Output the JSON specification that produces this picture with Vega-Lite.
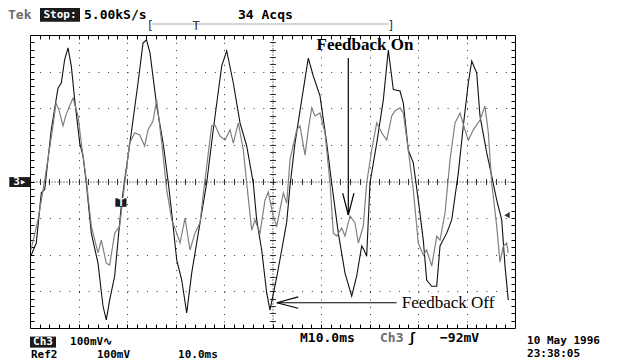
{
  "$schema": "https://vega.github.io/schema/vega-lite/v6.json",
  "width": 485,
  "height": 293,
  "autosize": {"type": "none"},
  "padding": {"left": 30, "top": 35, "right": 106, "bottom": 33},
  "background": "#ffffff",
  "config": {"view": {"stroke": "#000000", "strokeWidth": 1}},
  "datasets": {
    "ch3": [
      {"t": 0.27, "v": -200}, {"t": 1.3, "v": -168}, {"t": 2.33, "v": -31}, {"t": 3.03, "v": -22},
      {"t": 4.39, "v": 142}, {"t": 5.77, "v": 255}, {"t": 6.45, "v": 269}, {"t": 7.15, "v": 333},
      {"t": 7.84, "v": 365}, {"t": 8.52, "v": 315}, {"t": 9.22, "v": 223}, {"t": 10.25, "v": 105},
      {"t": 10.93, "v": 70}, {"t": 11.61, "v": -4}, {"t": 12.64, "v": -141}, {"t": 14.02, "v": -223},
      {"t": 15.05, "v": -340}, {"t": 15.73, "v": -378}, {"t": 16.43, "v": -323}, {"t": 17.46, "v": -258},
      {"t": 18.82, "v": -67}, {"t": 19.53, "v": 5}, {"t": 20.89, "v": 133}, {"t": 22.27, "v": 269},
      {"t": 23.3, "v": 378}, {"t": 24.02, "v": 387}, {"t": 24.74, "v": 351}, {"t": 26.12, "v": 207},
      {"t": 27.49, "v": 101}, {"t": 28.52, "v": -4}, {"t": 29.22, "v": -86}, {"t": 30.25, "v": -214},
      {"t": 31.28, "v": -269}, {"t": 32.31, "v": -359}, {"t": 33.34, "v": -250}, {"t": 34.7, "v": -141},
      {"t": 36.43, "v": -4}, {"t": 37.79, "v": 142}, {"t": 39.53, "v": 316}, {"t": 40.56, "v": 357},
      {"t": 41.92, "v": 269}, {"t": 43.3, "v": 160}, {"t": 44.68, "v": 97}, {"t": 46.04, "v": -4},
      {"t": 46.74, "v": -105}, {"t": 47.77, "v": -187}, {"t": 48.81, "v": -305}, {"t": 49.48, "v": -351},
      {"t": 49.9, "v": -324}, {"t": 50.87, "v": -261}, {"t": 51.9, "v": -187}, {"t": 52.93, "v": -111},
      {"t": 53.61, "v": -12}, {"t": 54.64, "v": 105}, {"t": 56.02, "v": 223}, {"t": 57.38, "v": 337},
      {"t": 58.41, "v": 288}, {"t": 59.79, "v": 234}, {"t": 61.17, "v": 105}, {"t": 62.2, "v": -4},
      {"t": 63.57, "v": -141}, {"t": 64.95, "v": -250}, {"t": 66.33, "v": -313}, {"t": 67.36, "v": -258},
      {"t": 68.39, "v": -176}, {"t": 68.87, "v": -187}, {"t": 69.42, "v": -204}, {"t": 70.1, "v": -4},
      {"t": 71.49, "v": 105}, {"t": 72.85, "v": 223}, {"t": 73.88, "v": 359}, {"t": 74.91, "v": 251},
      {"t": 76.29, "v": 247}, {"t": 76.97, "v": 214}, {"t": 78.0, "v": 86}, {"t": 79.03, "v": 51},
      {"t": 80.06, "v": -51}, {"t": 81.09, "v": -160}, {"t": 81.79, "v": -269}, {"t": 82.83, "v": -286},
      {"t": 83.86, "v": -286}, {"t": 84.54, "v": -176}, {"t": 85.92, "v": -141}, {"t": 86.95, "v": -105},
      {"t": 88.31, "v": 23}, {"t": 89.34, "v": 152}, {"t": 90.37, "v": 269}, {"t": 91.08, "v": 329},
      {"t": 92.11, "v": 296}, {"t": 92.78, "v": 179}, {"t": 94.17, "v": 78}, {"t": 95.2, "v": 15},
      {"t": 96.23, "v": -51}, {"t": 97.26, "v": -105}, {"t": 97.94, "v": -231}, {"t": 98.62, "v": -324}
    ],
    "ref2": [
      {"t": 0.21, "v": -187}, {"t": 1.65, "v": -105}, {"t": 3.03, "v": 4}, {"t": 4.74, "v": 152},
      {"t": 5.36, "v": 214}, {"t": 5.98, "v": 195}, {"t": 6.8, "v": 152}, {"t": 7.42, "v": 182},
      {"t": 8.25, "v": 209}, {"t": 8.87, "v": 228}, {"t": 9.9, "v": 179}, {"t": 10.58, "v": 105},
      {"t": 11.61, "v": 4}, {"t": 12.64, "v": -122}, {"t": 14.02, "v": -195}, {"t": 14.7, "v": -160},
      {"t": 15.73, "v": -223}, {"t": 16.43, "v": -228}, {"t": 17.46, "v": -141}, {"t": 18.49, "v": -122},
      {"t": 19.53, "v": -4}, {"t": 20.56, "v": 105}, {"t": 21.59, "v": 133}, {"t": 22.62, "v": 127},
      {"t": 23.65, "v": 97}, {"t": 24.33, "v": 141}, {"t": 25.36, "v": 165}, {"t": 26.12, "v": 223},
      {"t": 27.16, "v": 105}, {"t": 28.19, "v": -23}, {"t": 29.22, "v": -105}, {"t": 30.25, "v": -141},
      {"t": 30.93, "v": -168}, {"t": 31.96, "v": -100}, {"t": 32.99, "v": -187}, {"t": 34.02, "v": -141},
      {"t": 35.05, "v": -113}, {"t": 36.08, "v": 4}, {"t": 37.46, "v": 152}, {"t": 38.14, "v": 154},
      {"t": 39.18, "v": 124}, {"t": 40.21, "v": 113}, {"t": 41.24, "v": 141}, {"t": 41.92, "v": 105},
      {"t": 42.95, "v": 160}, {"t": 43.98, "v": 86}, {"t": 44.68, "v": -4}, {"t": 45.71, "v": -133},
      {"t": 46.39, "v": -105}, {"t": 47.42, "v": -141}, {"t": 48.45, "v": -51}, {"t": 49.13, "v": -29},
      {"t": 50.1, "v": -92}, {"t": 50.87, "v": -122}, {"t": 52.23, "v": -31}, {"t": 52.93, "v": -59},
      {"t": 53.61, "v": 59}, {"t": 54.99, "v": 141}, {"t": 55.67, "v": 152}, {"t": 56.7, "v": 72},
      {"t": 57.38, "v": 141}, {"t": 58.08, "v": 201}, {"t": 58.76, "v": 179}, {"t": 59.79, "v": 187},
      {"t": 60.82, "v": 133}, {"t": 61.86, "v": -4}, {"t": 62.54, "v": -141}, {"t": 63.24, "v": -149},
      {"t": 64.27, "v": -127}, {"t": 64.95, "v": -149}, {"t": 65.98, "v": -94}, {"t": 67.01, "v": -113},
      {"t": 67.7, "v": -168}, {"t": 68.72, "v": -122}, {"t": 69.42, "v": -4}, {"t": 70.45, "v": 86},
      {"t": 71.49, "v": 160}, {"t": 72.52, "v": 133}, {"t": 73.55, "v": 113}, {"t": 74.58, "v": 179},
      {"t": 75.26, "v": 193}, {"t": 76.29, "v": 201}, {"t": 76.97, "v": 187}, {"t": 78.0, "v": 86},
      {"t": 79.03, "v": -23}, {"t": 80.06, "v": -168}, {"t": 81.09, "v": -201}, {"t": 81.79, "v": -187},
      {"t": 82.83, "v": -231}, {"t": 83.86, "v": -149}, {"t": 84.54, "v": -160}, {"t": 85.57, "v": -86},
      {"t": 86.6, "v": 59}, {"t": 87.63, "v": 160}, {"t": 88.66, "v": 187}, {"t": 89.69, "v": 141},
      {"t": 90.37, "v": 113}, {"t": 91.41, "v": 141}, {"t": 92.78, "v": 168}, {"t": 93.81, "v": 206},
      {"t": 94.5, "v": 133}, {"t": 95.2, "v": -4}, {"t": 96.23, "v": -122}, {"t": 96.91, "v": -220},
      {"t": 97.59, "v": -176}, {"t": 98.28, "v": -168}, {"t": 98.62, "v": -195}
    ],
    "arrows": [
      {"t": 65.63, "v": 337, "t2": 65.63, "v2": -91.5},
      {"t": 64.47, "v": -32, "t2": 65.63, "v2": -91.5},
      {"t": 66.8, "v": -32, "t2": 65.63, "v2": -91.5},
      {"t": 50.9, "v": -331, "t2": 75.6, "v2": -331},
      {"t": 55.3, "v": -315, "t2": 50.9, "v2": -331},
      {"t": 55.3, "v": -346, "t2": 50.9, "v2": -331}
    ],
    "boxes": [
      {"t": 2.06, "t2": 10.31, "v": 474, "v2": 436},
      {"t": 0.0, "t2": 5.36, "v": -423.5, "v2": -453.6},
      {"t": -4.27, "t2": 0.0, "v": 12, "v2": -15},
      {"t": 17.6, "t2": 19.9, "v": -46, "v2": -69}
    ],
    "tekTop": [
      {"t": 11.13, "v": 455, "label": "5.00kS/s"},
      {"t": 42.89, "v": 455, "label": "34 Acqs"},
      {"t": 55.67, "v": -426, "label": "M10.0ms"},
      {"t": 77.94, "v": -426, "label": "ʃ"},
      {"t": 84.54, "v": -426, "label": "−92mV"}
    ],
    "tekDate": [
      {"t": 102.48, "v": -436, "label": "10 May 1996"},
      {"t": 102.48, "v": -471.5, "label": "23:38:05"}
    ],
    "tekBottom": [
      {"t": 8.25, "v": -438.5, "label": "100mV∿"},
      {"t": 0.2, "v": -474.3, "label": "Ref2"},
      {"t": 13.8, "v": -474.3, "label": "100mV"},
      {"t": 30.52, "v": -474.3, "label": "10.0ms"}
    ],
    "tekGray": [
      {"t": -4.54, "v": 455, "label": "Tek"},
      {"t": 72.17, "v": -426, "label": "Ch3"}
    ],
    "tekWhite": [
      {"t": 6.19, "v": 455, "label": "Stop:"},
      {"t": 2.68, "v": -438.5, "label": "Ch3"},
      {"t": -2.1, "v": -1.5, "label": "3▸"},
      {"t": 18.75, "v": -57.5, "label": "T"}
    ],
    "record": [
      {"t": 25.3, "v": 430, "t2": 74.0, "v2": 430}
    ],
    "recordMarks": [
      {"t": 24.74, "v": 425, "label": "["},
      {"t": 34.23, "v": 425, "label": "T"},
      {"t": 74.43, "v": 425, "label": "]"}
    ],
    "trig": [
      {"t": 98.35, "v": -92}
    ],
    "fbOn": [
      {"t": 69.07, "v": 373, "label": "Feedback On"}
    ],
    "fbOff": [
      {"t": 76.64, "v": -333, "label": "Feedback Off"}
    ]
  },
  "resolve": {"axis": {"x": "independent", "y": "independent"}},
  "layer": [
    {
      "data": {"name": "ch3"},
      "mark": {"type": "line", "color": "#111111", "strokeWidth": 1.1, "clip": true},
      "encoding": {
        "x": {"field": "t", "type": "quantitative", "scale": {"domain": [0, 100], "nice": false, "zero": false},
          "axis": {"orient": "bottom", "values": [10, 20, 30, 40, 60, 70, 80, 90], "grid": true, "gridDash": [1, 6.33], "gridColor": "#333333", "gridWidth": 1, "gridOpacity": 1, "ticks": false, "labels": false, "domain": false, "title": null}},
        "y": {"field": "v", "type": "quantitative", "scale": {"domain": [-400, 400], "nice": false, "zero": false},
          "axis": {"orient": "left", "values": [-300, -200, -100, 100, 200, 300], "grid": true, "gridDash": [1, 8.7], "gridColor": "#333333", "gridWidth": 1, "gridOpacity": 1, "ticks": false, "labels": false, "domain": false, "title": null}}
      }
    },
    {
      "data": {"name": "ref2"},
      "mark": {"type": "line", "color": "#808080", "strokeWidth": 1.2, "clip": true},
      "encoding": {
        "x": {"field": "t", "type": "quantitative",
          "axis": {"orient": "bottom", "values": [2,4,6,8,10,12,14,16,18,20,22,24,26,28,30,32,34,36,38,40,42,44,46,48,50,52,54,56,58,60,62,64,66,68,70,72,74,76,78,80,82,84,86,88,90,92,94,96,98], "grid": false, "ticks": true, "tickSize": -4, "tickColor": "#000000", "labels": false, "domain": false, "title": null}},
        "y": {"field": "v", "type": "quantitative",
          "axis": {"orient": "left", "values": [-380,-360,-340,-320,-300,-280,-260,-240,-220,-200,-180,-160,-140,-120,-100,-80,-60,-40,-20,0,20,40,60,80,100,120,140,160,180,200,220,240,260,280,300,320,340,360,380], "grid": false, "ticks": true, "tickSize": -4, "tickColor": "#000000", "labels": false, "domain": false, "title": null}}
      }
    },
    {
      "data": {"name": "fbOn"},
      "mark": {"type": "text", "font": "Liberation Serif", "fontWeight": "bold", "fontSize": 17, "align": "center", "baseline": "middle", "color": "#000000"},
      "encoding": {
        "x": {"field": "t", "type": "quantitative",
          "axis": {"orient": "top", "values": [2,4,6,8,10,12,14,16,18,20,22,24,26,28,30,32,34,36,38,40,42,44,46,48,50,52,54,56,58,60,62,64,66,68,70,72,74,76,78,80,82,84,86,88,90,92,94,96,98], "grid": false, "ticks": true, "tickSize": -4, "tickColor": "#000000", "labels": false, "domain": false, "title": null}},
        "y": {"field": "v", "type": "quantitative",
          "axis": {"orient": "right", "values": [-380,-360,-340,-320,-300,-280,-260,-240,-220,-200,-180,-160,-140,-120,-100,-80,-60,-40,-20,0,20,40,60,80,100,120,140,160,180,200,220,240,260,280,300,320,340,360,380], "grid": false, "ticks": true, "tickSize": -4, "tickColor": "#000000", "labels": false, "domain": false, "title": null}},
        "text": {"field": "label"}
      }
    },
    {
      "data": {"name": "arrows"},
      "mark": {"type": "rule", "color": "#000000", "strokeWidth": 1.2},
      "encoding": {
        "x": {"field": "t", "type": "quantitative",
          "axis": {"orient": "bottom", "offset": -146.5, "values": [2,4,6,8,10,12,14,16,18,20,22,24,26,28,30,32,34,36,38,40,42,44,46,48,50,52,54,56,58,60,62,64,66,68,70,72,74,76,78,80,82,84,86,88,90,92,94,96,98], "grid": false, "ticks": true, "tickSize": 3, "tickColor": "#333333", "labels": false, "domain": true, "domainDash": [1, 2], "domainColor": "#000000", "title": null}},
        "x2": {"field": "t2"},
        "y": {"field": "v", "type": "quantitative",
          "axis": {"orient": "left", "offset": -242.5, "values": [-380,-360,-340,-320,-300,-280,-260,-240,-220,-200,-180,-160,-140,-120,-100,-80,-60,-40,-20,0,20,40,60,80,100,120,140,160,180,200,220,240,260,280,300,320,340,360,380], "grid": false, "ticks": true, "tickSize": 3, "tickColor": "#333333", "labels": false, "domain": true, "domainDash": [1, 2], "domainColor": "#000000", "title": null}},
        "y2": {"field": "v2"}
      }
    },
    {
      "data": {"name": "fbOff"},
      "mark": {"type": "text", "font": "Liberation Serif", "fontSize": 17, "align": "left", "baseline": "middle", "color": "#000000"},
      "encoding": {
        "x": {"field": "t", "type": "quantitative",
          "axis": {"orient": "bottom", "offset": -146.5, "values": [2,4,6,8,10,12,14,16,18,20,22,24,26,28,30,32,34,36,38,40,42,44,46,48,50,52,54,56,58,60,62,64,66,68,70,72,74,76,78,80,82,84,86,88,90,92,94,96,98], "grid": false, "ticks": true, "tickSize": -3, "tickColor": "#333333", "labels": false, "domain": false, "title": null}},
        "y": {"field": "v", "type": "quantitative",
          "axis": {"orient": "left", "offset": -242.5, "values": [-380,-360,-340,-320,-300,-280,-260,-240,-220,-200,-180,-160,-140,-120,-100,-80,-60,-40,-20,0,20,40,60,80,100,120,140,160,180,200,220,240,260,280,300,320,340,360,380], "grid": false, "ticks": true, "tickSize": -3, "tickColor": "#333333", "labels": false, "domain": false, "title": null}},
        "text": {"field": "label"}
      }
    },
    {
      "data": {"name": "boxes"},
      "mark": {"type": "rect", "color": "#1a1a1a"},
      "encoding": {
        "x": {"field": "t", "type": "quantitative", "axis": null},
        "x2": {"field": "t2"},
        "y": {"field": "v", "type": "quantitative", "axis": null},
        "y2": {"field": "v2"}
      }
    },
    {
      "data": {"name": "tekTop"},
      "mark": {"type": "text", "font": "DejaVu Sans Mono", "fontWeight": "bold", "fontSize": 13, "align": "left", "baseline": "middle", "color": "#000000"},
      "encoding": {
        "x": {"field": "t", "type": "quantitative", "axis": null},
        "y": {"field": "v", "type": "quantitative", "axis": null},
        "text": {"field": "label"}
      }
    },
    {
      "data": {"name": "tekDate"},
      "mark": {"type": "text", "font": "DejaVu Sans Mono", "fontWeight": "bold", "fontSize": 11, "align": "left", "baseline": "middle", "color": "#000000"},
      "encoding": {
        "x": {"field": "t", "type": "quantitative", "axis": null},
        "y": {"field": "v", "type": "quantitative", "axis": null},
        "text": {"field": "label"}
      }
    },
    {
      "data": {"name": "tekBottom"},
      "mark": {"type": "text", "font": "DejaVu Sans Mono", "fontWeight": "bold", "fontSize": 11, "align": "left", "baseline": "middle", "color": "#000000"},
      "encoding": {
        "x": {"field": "t", "type": "quantitative", "axis": null},
        "y": {"field": "v", "type": "quantitative", "axis": null},
        "text": {"field": "label"}
      }
    },
    {
      "data": {"name": "tekGray"},
      "mark": {"type": "text", "font": "DejaVu Sans Mono", "fontWeight": "bold", "fontSize": 13, "align": "left", "baseline": "middle", "color": "#6e6e6e"},
      "encoding": {
        "x": {"field": "t", "type": "quantitative", "axis": null},
        "y": {"field": "v", "type": "quantitative", "axis": null},
        "text": {"field": "label"}
      }
    },
    {
      "data": {"name": "tekWhite"},
      "mark": {"type": "text", "font": "DejaVu Sans Mono", "fontWeight": "bold", "fontSize": 11, "align": "center", "baseline": "middle", "color": "#ffffff"},
      "encoding": {
        "x": {"field": "t", "type": "quantitative", "axis": null},
        "y": {"field": "v", "type": "quantitative", "axis": null},
        "text": {"field": "label"}
      }
    },
    {
      "data": {"name": "record"},
      "mark": {"type": "rule", "color": "#555555", "strokeWidth": 1, "strokeDash": [1, 1]},
      "encoding": {
        "x": {"field": "t", "type": "quantitative", "axis": null},
        "x2": {"field": "t2"},
        "y": {"field": "v", "type": "quantitative", "axis": null},
        "y2": {"field": "v2"}
      }
    },
    {
      "data": {"name": "recordMarks"},
      "mark": {"type": "text", "font": "DejaVu Sans Mono", "fontSize": 12, "align": "center", "baseline": "middle", "color": "#333333"},
      "encoding": {
        "x": {"field": "t", "type": "quantitative", "axis": null},
        "y": {"field": "v", "type": "quantitative", "axis": null},
        "text": {"field": "label"}
      }
    },
    {
      "data": {"name": "trig"},
      "mark": {"type": "point", "shape": "triangle-left", "size": 40, "filled": true, "color": "#333333", "opacity": 1},
      "encoding": {
        "x": {"field": "t", "type": "quantitative", "axis": null},
        "y": {"field": "v", "type": "quantitative", "axis": null}
      }
    }
  ]
}
